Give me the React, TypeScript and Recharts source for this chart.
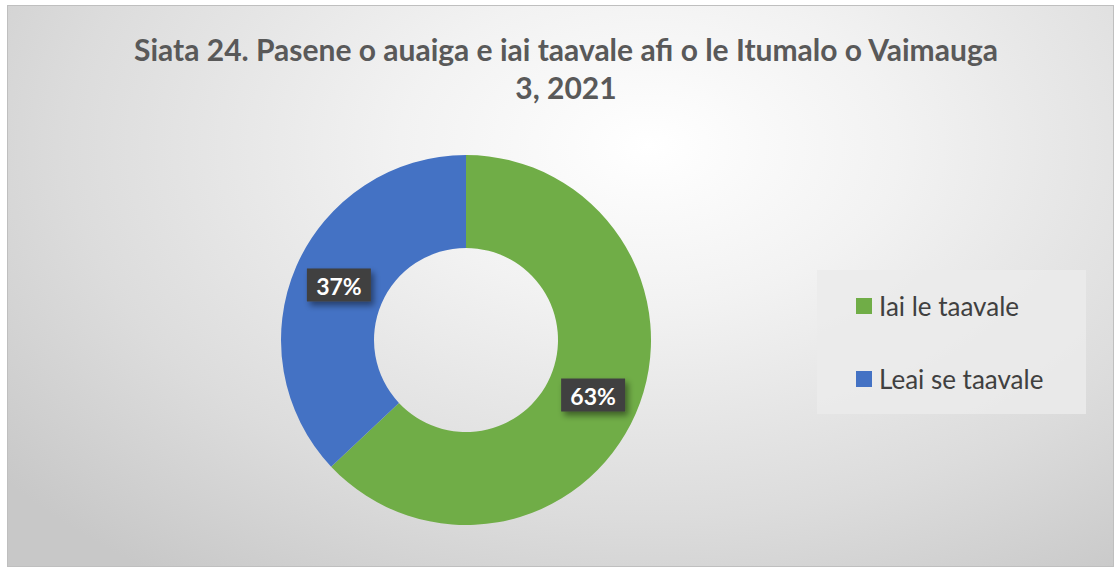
import { PieChart, Pie, Cell, Legend } from "recharts";

// --- Data ---
const categories = ["Iai le taavale", "Leai se taavale"];
const shares = [63, 37];
const COLORS = ["#70AD47", "#4472C4"];

const TITLE_LINES = ["Siata 24. Pasene o auaiga e iai taavale afi o le Itumalo o Vaimauga", "3, 2021"];
const FONT = "Lato, 'Open Sans', sans-serif";

const chartData = categories.map((name, i) => ({ name, value: shares[i] }));

const RADIAN = Math.PI / 180;

// dark label box with a soft shadow, like the Excel data callouts
function renderLabel(props: any) {
  const { cx, cy, midAngle, innerRadius, outerRadius, value, index } = props;
  const r = (innerRadius + outerRadius) / 2;
  const x = cx + r * Math.cos(-midAngle * RADIAN);
  const y = cy + r * Math.sin(-midAngle * RADIAN);
  const w = 64;
  const h = 33;
  return (
    <g key={`lbl-${index}`}>
      <defs>
        <filter id={`shadow-${index}`} x="-30%" y="-30%" width="160%" height="170%">
          <feDropShadow dx="3" dy="4" stdDeviation="3" floodColor="#000" floodOpacity="0.45" />
        </filter>
      </defs>
      <rect x={x - w / 2} y={y - h / 2} width={w} height={h} fill="#404040" filter={`url(#shadow-${index})`} />
      <text
        x={x}
        y={y + 1}
        fill="#ffffff"
        textAnchor="middle"
        dominantBaseline="central"
        style={{ fontFamily: FONT, fontWeight: 700, fontSize: 23 }}
      >
        {`${value}%`}
      </text>
    </g>
  );
}

function LegendBox() {
  return (
    <div
      style={{
        width: 269,
        height: 144,
        background: "rgba(235,235,235,0.85)",
        fontFamily: FONT,
        fontSize: 26,
        color: "#404040",
        boxSizing: "border-box",
        paddingLeft: 39,
        paddingTop: 17,
      }}
    >
      {categories.map((name, i) => (
        <div key={name} style={{ display: "flex", alignItems: "center", height: 37, marginBottom: i === 0 ? 36 : 0 }}>
          <span style={{ display: "inline-block", width: 16, height: 16, background: COLORS[i], marginRight: 7 }} />
          <span>{name}</span>
        </div>
      ))}
    </div>
  );
}

export default function App() {
  return (
    <div style={{ position: "absolute", left: 0, top: 0, width: 1117, height: 569, background: "#ffffff" }}>
      <div
        style={{
          position: "absolute",
          left: 7,
          top: 5,
          width: 1105,
          height: 560,
          border: "1px solid #bfbfbf",
          background: "radial-gradient(ellipse 75% 95% at 58% 25%, #ffffff 0%, #f2f2f2 30%, #dcdcdc 70%, #c8c8c8 100%)",
        }}
      />
      <div
        style={{
          position: "absolute",
          left: 0,
          top: 30,
          width: 1132,
          textAlign: "center",
          fontFamily: FONT,
          fontWeight: 700,
          fontSize: 30,
          lineHeight: "38px",
          color: "#595959",
        }}
      >
        {TITLE_LINES.map((t) => (
          <div key={t}>{t}</div>
        ))}
      </div>
      <div style={{ position: "absolute", left: 0, top: 0 }}>
        <PieChart width={1117} height={569}>
          <Pie
            data={chartData}
            dataKey="value"
            nameKey="name"
            cx={461}
            cy={335}
            innerRadius={92}
            outerRadius={185}
            startAngle={90}
            endAngle={-270}
            stroke="none"
            labelLine={false}
            label={renderLabel}
            isAnimationActive={false}
          >
            {chartData.map((entry, i) => (
              <Cell key={`cell-${entry.name}`} fill={COLORS[i]} />
            ))}
          </Pie>
          <Legend
            content={() => <LegendBox />}
            wrapperStyle={{ position: "absolute", left: 817, top: 270, width: 269, height: 144 }}
          />
        </PieChart>
      </div>
    </div>
  );
}
